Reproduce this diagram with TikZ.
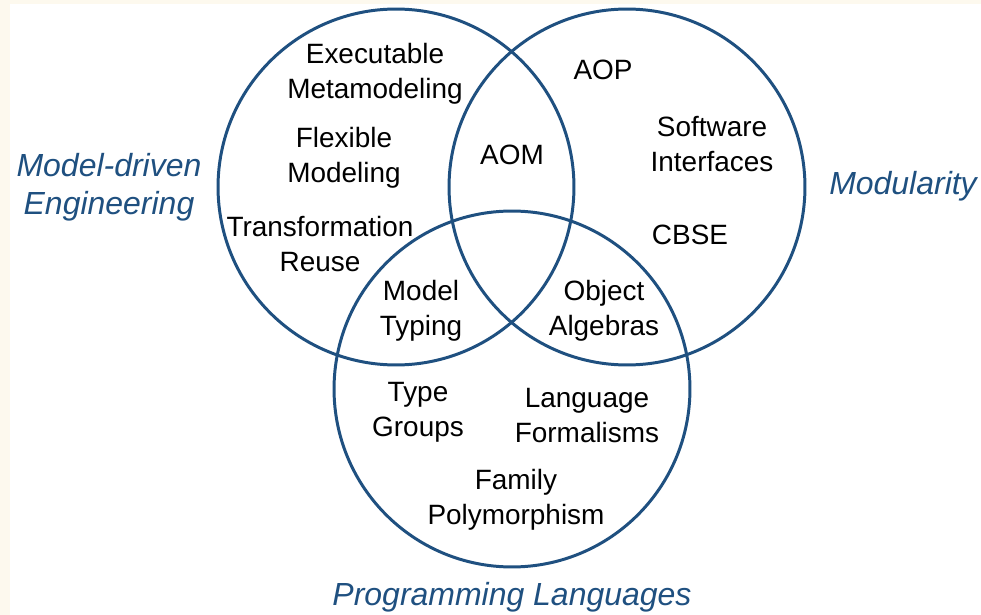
\documentclass[tikz,border=0pt]{standalone}
\usepackage{fontspec}
\setmainfont{Liberation Sans}
\definecolor{vennblue}{RGB}{31,80,128}
\definecolor{paper}{RGB}{253,249,238}

\begin{document}
\begin{tikzpicture}[x=0.02cm,y=-0.02cm,
  ring/.style={draw=vennblue,line width=1.7pt},
  item/.style={align=center,font=\fontsize{15.9}{19.9}\selectfont,inner sep=0pt},
  area/.style={align=center,text=vennblue,font=\fontsize{18.2}{21.7}\selectfont\itshape,inner sep=0pt}]
% frame of the picture
\useasboundingbox (0,0) rectangle (981,615);
\fill[white] (0,0) rectangle (981,615);
\fill[paper] (0,0) rectangle (10,615);
\fill[paper] (0,0) rectangle (981,4);
% the three sets
\draw[ring] (396,187) circle[radius=3.56cm];
\draw[ring] (627,187) circle[radius=3.56cm];
\draw[ring] (512,389) circle[radius=3.56cm];
% names of the sets
\node[area] (mde) at (109,187) {Model-driven\\Engineering};
\node[area] (mod) at (903,186) {Modularity};
\node[area] (pl) at (512,597) {Programming Languages};
% topics
\node[item] (exec) at (375,74) {Executable\\Metamodeling};
\node[item] (flex) at (344,158) {Flexible\\Modeling};
\node[item] (reuse) at (320,244) {Transformation\\Reuse};
\node[item] (aom) at (512,155) {AOM};
\node[item] (aop) at (603,70) {AOP};
\node[item] (swi) at (712,144) {Software\\Interfaces};
\node[item] (cbse) at (690,235) {CBSE};
\node[item] (typing) at (421,311) {Model\\Typing};
\node[item] (objalg) at (604,311) {Object\\Algebras};
\node[item] (groups) at (418,412) {Type\\Groups};
\node[item] (lang) at (587,416) {Language\\Formalisms};
\node[item] (family) at (516,500) {Family\\Polymorphism};
\end{tikzpicture}
\end{document}
